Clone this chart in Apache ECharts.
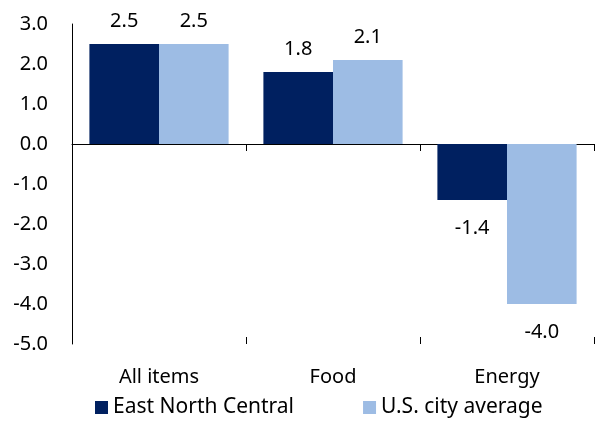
<!DOCTYPE html>
<html>
<head>
<meta charset="utf-8">
<script src="https://cdn.jsdelivr.net/npm/echarts@6/dist/echarts.min.js"></script>
<style>
  html, body { margin: 0; padding: 0; background: #fff; }
  #chart { width: 595px; height: 421px; }
</style>
</head>
<body>
<div id="chart"></div>
<script>
// data
var categories = ['All items', 'Food', 'Energy'];
var eastNorthCentral = [2.5, 1.8, -1.4];
var usCityAverage = [2.5, 2.1, -4.0];
var seriesNames = ['East North Central', 'U.S. city average'];

var FONT = '"Noto Sans", sans-serif';

function withLabels(values) {
  return values.map(function (v) {
    return {
      value: v,
      label: v < 0 ? { position: 'bottom', distance: 18 } : { position: 'top', distance: 13 }
    };
  });
}

var chart = echarts.init(document.getElementById('chart'));
var option = {
  animation: false,
  textStyle: { fontFamily: FONT },
  grid: { left: 72, right: 1, top: 24, bottom: 77, containLabel: false },
  legend: {
    top: 392,
    left: 90,
    itemWidth: 13,
    itemHeight: 13,
    itemGap: 69,
    icon: 'rect',
    textStyle: { fontFamily: FONT, fontSize: 21, color: '#000' },
    data: seriesNames
  },
  xAxis: [
    {
      // labels at the bottom
      type: 'category',
      data: categories,
      position: 'bottom',
      axisLine: { show: false, onZero: false },
      axisTick: { show: false },
      axisLabel: { color: '#000', fontSize: 20, fontFamily: FONT, margin: 23 }
    },
    {
      // zero line with ticks below
      type: 'category',
      data: categories,
      gridIndex: 0,
      position: 'bottom',
      axisLine: { onZero: true, lineStyle: { color: '#000', width: 1 } },
      axisTick: { show: true, length: 7, lineStyle: { color: '#000' } },
      axisLabel: { show: false }
    },
    {
      // ticks above the zero line
      type: 'category',
      data: categories,
      gridIndex: 0,
      position: 'bottom',
      axisLine: { onZero: true, show: false },
      axisTick: { show: true, inside: true, length: 7, lineStyle: { color: '#000' } },
      axisLabel: { show: false }
    }
  ],
  yAxis: {
    type: 'value',
    min: -5,
    max: 3,
    interval: 1,
    axisLine: { show: true, lineStyle: { color: '#000' } },
    axisTick: { show: false },
    splitLine: { show: false },
    axisLabel: {
      color: '#000',
      fontSize: 20,
      fontFamily: FONT,
      margin: 24,
      formatter: function (v) { return v.toFixed(1); }
    }
  },
  series: [
    {
      name: seriesNames[0],
      type: 'bar',
      data: withLabels(eastNorthCentral),
      itemStyle: { color: '#002060' },
      barGap: '0%',
      barCategoryGap: '20%',
      label: {
        show: true, color: '#000', fontSize: 20, fontFamily: FONT,
        formatter: function (p) { return p.value.toFixed(1); }
      }
    },
    {
      name: seriesNames[1],
      type: 'bar',
      data: withLabels(usCityAverage),
      itemStyle: { color: '#9dbce4' },
      barGap: '0%',
      barCategoryGap: '20%',
      label: {
        show: true, color: '#000', fontSize: 20, fontFamily: FONT,
        formatter: function (p) { return p.value.toFixed(1); }
      }
    }
  ]
};
chart.setOption(option);
</script>
</body>
</html>
